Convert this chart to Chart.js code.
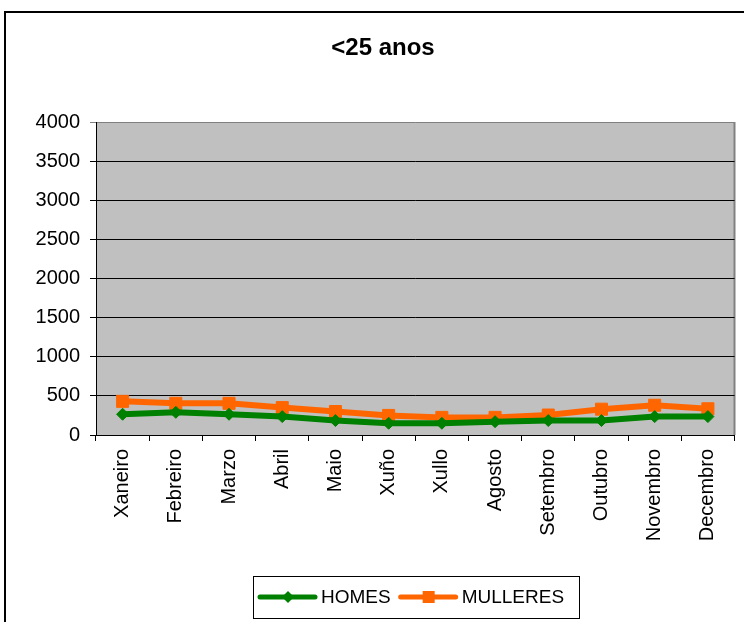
<!DOCTYPE html>
<html>
<head>
<meta charset="utf-8">
<title>&lt;25 anos</title>
<script src="https://cdn.jsdelivr.net/npm/chart.js@4.4.1/dist/chart.umd.min.js"></script>
<style>
    html, body { margin: 0; padding: 0; background: #fff; }
    #chart { display: block; }
</style>
</head>
<body>
<canvas id="chart" width="744" height="622"></canvas>
<script>
// Chart data
const months = ['Xaneiro', 'Febreiro', 'Marzo', 'Abril', 'Maio', 'Xuño', 'Xullo',
    'Agosto', 'Setembro', 'Outubro', 'Novembro', 'Decembro'];
const homes = [265, 290, 265, 235, 185, 150, 150, 170, 185, 185, 235, 235];
const mulleres = [430, 405, 405, 350, 300, 250, 225, 225, 255, 330, 380, 335];
const yTicks = [0, 500, 1000, 1500, 2000, 2500, 3000, 3500, 4000];
const chartTitle = '<25 anos';

const FONT = '"Liberation Sans", Arial, sans-serif';

// Frame, plot background and title
const framePlugin = {
    id: 'frame',
    beforeDraw(chart) {
        const { ctx, chartArea: a } = chart;
        ctx.save();
        ctx.fillStyle = '#c0c0c0';
        ctx.fillRect(a.left, a.top, a.right - a.left, a.bottom - a.top);
        ctx.strokeStyle = '#808080';
        ctx.lineWidth = 2;
        ctx.beginPath();
        ctx.moveTo(a.right, a.top);
        ctx.lineTo(a.right, a.bottom);
        ctx.stroke();

        ctx.strokeStyle = '#000';
        ctx.lineWidth = 2;
        ctx.beginPath();
        ctx.moveTo(5, 622);
        ctx.lineTo(5, 12);
        ctx.lineTo(744, 12);
        ctx.stroke();

        ctx.fillStyle = '#000';
        ctx.font = 'bold 24px ' + FONT;
        ctx.textAlign = 'center';
        ctx.textBaseline = 'middle';
        ctx.fillText(chartTitle, 383, 48);
        ctx.restore();
    }
};

// Excel style legend: line with marker, boxed
const legendPlugin = {
    id: 'boxLegend',
    afterDraw(chart) {
        const { ctx } = chart;
        const box = { x: 253, y: 576, w: 326, h: 42 };
        const cy = box.y + box.h / 2;
        ctx.save();
        ctx.fillStyle = '#fff';
        ctx.fillRect(box.x, box.y, box.w, box.h);
        ctx.strokeStyle = '#000';
        ctx.lineWidth = 1;
        ctx.strokeRect(box.x + 0.5, box.y + 0.5, box.w, box.h);

        ctx.font = '19px ' + FONT;
        ctx.textBaseline = 'middle';
        let x = 258;
        chart.data.datasets.forEach(ds => {
            ctx.strokeStyle = ds.borderColor;
            ctx.lineWidth = 5;
            ctx.lineCap = 'round';
            ctx.beginPath();
            ctx.moveTo(x + 2, cy);
            ctx.lineTo(x + 57, cy);
            ctx.stroke();
            ctx.fillStyle = ds.borderColor;
            const mx = x + 30;
            ctx.beginPath();
            if (ds.pointStyle === 'rectRot') {
                ctx.moveTo(mx, cy - 6);
                ctx.lineTo(mx + 6, cy);
                ctx.lineTo(mx, cy + 6);
                ctx.lineTo(mx - 6, cy);
                ctx.closePath();
            } else {
                ctx.rect(mx - 6, cy - 6, 12, 12);
            }
            ctx.fill();
            ctx.fillStyle = '#000';
            ctx.fillText(ds.label, x + 63, cy + 1);
            x += 63 + ctx.measureText(ds.label).width + 8;
        });
        ctx.restore();
    }
};

new Chart(document.getElementById('chart'), {
    type: 'line',
    data: {
        labels: months,
        datasets: [{
            label: 'HOMES',
            data: homes,
            borderColor: '#008000',
            backgroundColor: '#008000',
            borderWidth: 6,
            pointStyle: 'rectRot',
            pointRadius: 6,
            pointBorderWidth: 1,
            tension: 0
        }, {
            label: 'MULLERES',
            data: mulleres,
            borderColor: '#ff6600',
            backgroundColor: '#ff6600',
            borderWidth: 6,
            pointStyle: 'rect',
            pointRadius: 8.5,
            pointBorderWidth: 1,
            tension: 0
        }]
    },
    options: {
        responsive: false,
        animation: false,
        layout: { padding: { top: 122, left: 0, right: 8, bottom: 0 } },
        plugins: {
            legend: { display: false },
            title: { display: false },
            tooltip: { enabled: false }
        },
        scales: {
            x: {
                offset: true,
                grid: {
                    offset: true,
                    drawOnChartArea: false,
                    drawTicks: true,
                    tickLength: 6,
                    color: '#000'
                },
                border: { color: '#000', width: 1 },
                ticks: {
                    minRotation: 90,
                    maxRotation: 90,
                    padding: 8,
                    color: '#000',
                    font: { family: FONT, size: 20 }
                },
                afterFit(scale) { scale.height = 187; }
            },
            y: {
                min: 0,
                max: 4000,
                afterBuildTicks(scale) { scale.ticks = yTicks.map(v => ({ value: v })); },
                grid: {
                    color: ctx => (ctx.tick && ctx.tick.value === 4000) ? '#808080' : '#000',
                    lineWidth: 1,
                    tickLength: 6,
                    drawTicks: true
                },
                border: { color: '#000', width: 1 },
                ticks: {
                    padding: 10,
                    color: '#000',
                    font: { family: FONT, size: 20 },
                    callback: v => String(v)
                },
                afterFit(scale) { scale.width = 96; }
            }
        }
    },
    plugins: [framePlugin, legendPlugin]
});
</script>
</body>
</html>
